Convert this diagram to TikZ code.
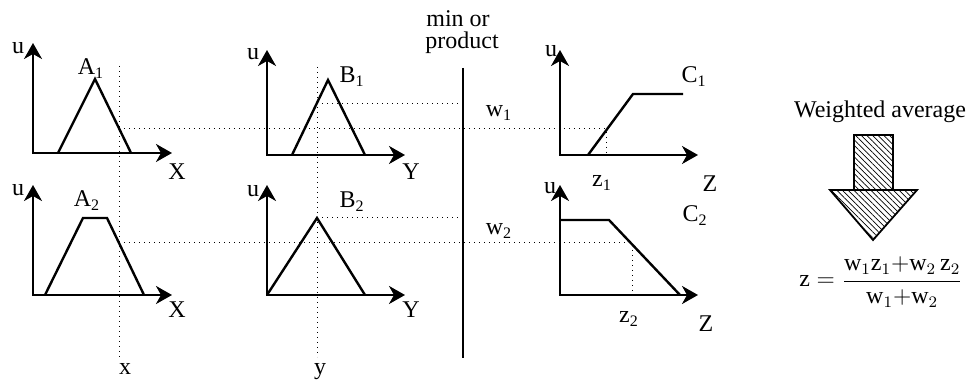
\documentclass[tikz,border=0pt]{standalone}
\usepackage{fontspec}
\usepackage{amsmath}
\setmainfont{Liberation Serif}
\usetikzlibrary{arrows.meta,patterns.meta}

\tikzset{
  axis/.style={line width=1.1pt,line join=miter,
    {Stealth[length=8pt,width=9pt,inset=2.5pt]}-{Stealth[length=8pt,width=9pt,inset=2.5pt]}},
  mf/.style={line width=1.2pt,line join=miter},
  guide/.style={line width=0.5pt,dotted},
  minline/.style={line width=1pt},
  lbl/.style={inner sep=0pt,font=\fontsize{12}{14}\selectfont},
  hatch/.style={line width=0.9pt,pattern={Lines[angle=-45,distance=2pt,line width=0.35pt]}},
}

\begin{document}
\begin{tikzpicture}[x=0.5pt,y=-0.5pt]
    \useasboundingbox (0,0) rectangle (977,383);

    % origins of the six plots
    \coordinate (oA1) at (33,153);
    \coordinate (oA2) at (33,295);
    \coordinate (oB1) at (267,155);
    \coordinate (oB2) at (267,295);
    \coordinate (oC1) at (560,155);
    \coordinate (oC2) at (560,295);

    \foreach \o/\h/\w in {oA1/110/139,oA2/110/139,oB1/105/138,oB2/110/138,oC1/105/138,oC2/110/138}{
        \draw[axis] (\o) ++(0,-\h) -- (\o) -- ++(\w,0);
    }

    % membership functions
    \draw[mf] (58,153) -- (95,79) -- (131,153);
    \draw[mf] (45,295) -- (83,218) -- (107,218) -- (144,295);
    \draw[mf] (292,155) -- (328,80) -- (365,155);
    \draw[mf] (267,295) -- (317,218) -- (365,295);
    \draw[mf] (588,155) -- (633,94) -- (683,94);
    \draw[mf] (560,220) -- (609,220) -- (680,295);

    % inputs and min line
    \coordinate (xtop) at (119,66);
    \coordinate (xbot) at (119,357);
    \coordinate (ytop) at (317,67);
    \coordinate (ybot) at (317,357);
    \coordinate (mtop) at (463,68);
    \coordinate (mbot) at (463,358);

    \draw[guide] (xtop) -- (xbot);
    \draw[guide] (ytop) -- (ybot);
    \draw[minline] (mtop) -- (mbot);

    % rule 1
    \coordinate (a1) at (119,129);
    \coordinate (b1) at (317,104);
    \coordinate (c1) at (606,129);
    \draw[guide] (a1) -- (c1) -- (c1 |- oC1);
    \draw[guide] (b1) -- (b1 -| mtop);

    % rule 2
    \coordinate (a2) at (119,243);
    \coordinate (b2) at (317,218);
    \coordinate (c2) at (632,243);
    \draw[guide] (a2) -- (c2) -- (c2 |- oC2);
    \draw[guide] (b2) -- (b2 -| mtop);

    % axis names
    \foreach \n/\p in {uA1/{18,48},uA2/{18,190},uB1/{253,54},uB2/{253,191},uC1/{551,51},uC2/{550,188}}{
        \node[lbl] (\n) at (\p) {u};
    }
    \node[lbl,anchor=base] (XA1) at (177,180) {X};
    \node[lbl,anchor=base] (XA2) at (177,318) {X};
    \node[lbl,anchor=base] (YB1) at (411,180) {Y};
    \node[lbl,anchor=base] (YB2) at (411,318) {Y};
    \node[lbl,anchor=base] (ZC1) at (710,192) {Z};
    \node[lbl,anchor=base] (ZC2) at (706,332) {Z};

    % set names
    \node[lbl,anchor=base] (nA1) at (91,75) {A\textsubscript{1}};
    \node[lbl,anchor=base] (nA2) at (87,207) {A\textsubscript{2}};
    \node[lbl,anchor=base] (nB1) at (352,83) {B\textsubscript{1}};
    \node[lbl,anchor=base] (nB2) at (352,208) {B\textsubscript{2}};
    \node[lbl,anchor=base] (nC1) at (694,83) {C\textsubscript{1}};
    \node[lbl,anchor=base] (nC2) at (695,222) {C\textsubscript{2}};

    % values
    \node[lbl,anchor=base] (w1) at (499,117) {w\textsubscript{1}};
    \node[lbl,anchor=base] (w2) at (499,235) {w\textsubscript{2}};
    \node[lbl,anchor=base] (z1) at (602,187) {z\textsubscript{1}};
    \node[lbl,anchor=base] (z2) at (629,323) {z\textsubscript{2}};
    \node[lbl,anchor=base] (xin) at (125,375) {x};
    \node[lbl,anchor=base] (yin) at (320,375) {y};

    \node[lbl,anchor=base] (minor) at (458,27) {min or};
    \node[lbl,anchor=base] (prod) at (462,49) {product};

    % defuzzification
    \node[lbl,anchor=base] (wavg) at (880,118) {Weighted average};
    \draw[hatch] (854,135) rectangle (893,190);
    \draw[hatch] (830,190) -- (917,190) -- (873,240) -- cycle;
    \node[lbl] (zform) at (881,282)
        {$\mathrm{z}=\dfrac{\mathrm{w}_1\mathrm{z}_1{+}\mathrm{w}_2\,\mathrm{z}_2}{\mathrm{w}_1{+}\mathrm{w}_2}$};
\end{tikzpicture}
\end{document}
